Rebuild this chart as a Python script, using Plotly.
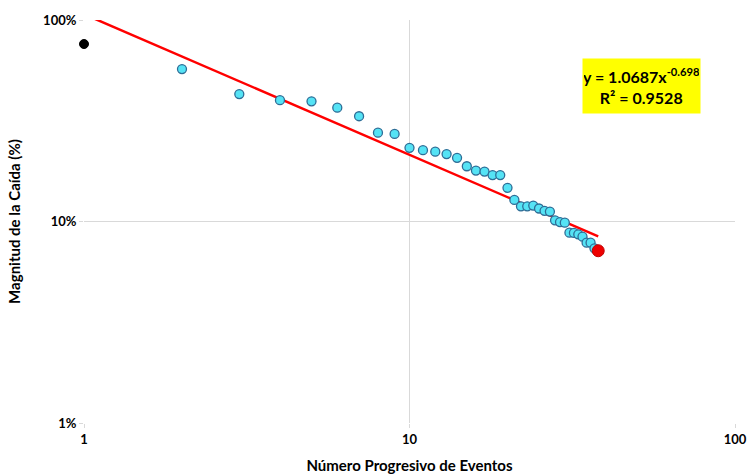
import plotly.graph_objects as go

# Data
event_first = [1]
drop_first = [0.76]

events = list(range(2, 38))
drops = [0.571, 0.429, 0.400, 0.395, 0.367, 0.333, 0.276, 0.272, 0.232, 0.226,
         0.222, 0.216, 0.207, 0.188, 0.179, 0.177, 0.170, 0.170, 0.147, 0.128,
         0.119, 0.119, 0.120, 0.116, 0.113, 0.112, 0.1014, 0.0994, 0.0987, 0.088,
         0.0878, 0.0864, 0.0841, 0.0785, 0.0785, 0.0736]

event_last = [38]
drop_last = [0.0716]

# Power trendline y = a * x^b
coef_a = 1.0687
coef_b = -0.698
r2 = 0.9528
trend_x = [1, 38]
trend_y = [coef_a * x ** coef_b for x in trend_x]

FONT = "Lato, 'Open Sans', sans-serif"

fig = go.Figure()
fig.add_trace(go.Scatter(x=trend_x, y=trend_y, mode="lines",
                         line=dict(color="#ff0000", width=2.5), showlegend=False,
                         hoverinfo="skip"))
fig.add_trace(go.Scatter(x=events, y=drops, mode="markers",
                         marker=dict(size=9, color="#55e3f5",
                                     line=dict(color="#2e6d96", width=1.3)),
                         showlegend=False, cliponaxis=False))
fig.add_trace(go.Scatter(x=event_first, y=drop_first, mode="markers",
                         marker=dict(size=9, color="#000000",
                                     line=dict(color="#000000", width=1)),
                         showlegend=False, cliponaxis=False))
fig.add_trace(go.Scatter(x=event_last, y=drop_last, mode="markers",
                         marker=dict(size=12, color="#ee0000",
                                     line=dict(color="#c00000", width=1)),
                         showlegend=False, cliponaxis=False))

fig.add_annotation(
    xref="paper", yref="paper", x=0.856, y=0.836,
    xanchor="center", yanchor="middle",
    text=f"<b>y = {coef_a}x<sup>{coef_b}</sup></b><br><b>R² = {r2}</b>",
    showarrow=False, bgcolor="#ffff00", width=115, height=52,
    font=dict(family=FONT, size=16, color="#000000"), align="center",
)

axis_common = dict(
    type="log", showgrid=True, gridcolor="#d9d9d9", gridwidth=1,
    zeroline=False, showline=False, ticks="outside", ticklen=4,
    tickcolor="#d9d9d9", automargin=False,
    tickfont=dict(family=FONT, size=13, color="#000000", weight="bold"),
)

fig.update_xaxes(**axis_common, range=[0, 2],
                 tickvals=[1, 10, 100], ticktext=["1", "10", "100"],
                 title=dict(text="<b>Número Progresivo de Eventos</b>",
                            font=dict(family=FONT, size=15, color="#000000"),
                            standoff=14))
fig.update_yaxes(**axis_common, range=[-2, 0],
                 tickvals=[0.01, 0.1, 1], ticktext=["1%", "10%", "100%"],
                 title=dict(text="<b>Magnitud de la Caída (%)</b>",
                            font=dict(family=FONT, size=15, color="#000000"),
                            standoff=18))

fig.update_layout(
    width=747, height=476,
    margin=dict(l=84, r=12, t=20, b=53),
    paper_bgcolor="white", plot_bgcolor="white",
    font=dict(family=FONT),
)

fig.write_html("out.html", config={"displayModeBar": False},
               post_script="document.body.style.margin='0';document.body.style.overflow='hidden';")
